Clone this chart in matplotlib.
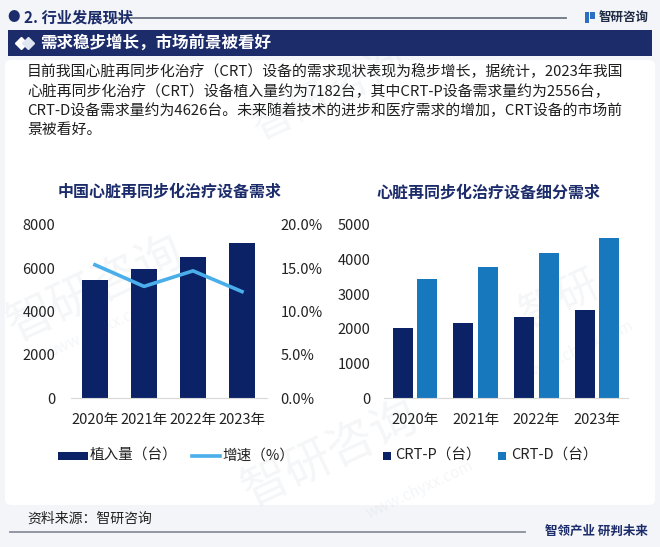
import matplotlib.pyplot as plt
from matplotlib.patches import Rectangle, FancyBboxPatch
from matplotlib.lines import Line2D

plt.rcParams['font.family'] = ['Noto Sans CJK SC', 'DejaVu Sans']

# data
years = ['2020年', '2021年', '2022年', '2023年']
implants = [5450, 5960, 6540, 7182]
growth = [15.4, 12.9, 14.7, 12.3]
crt_p = [2010, 2160, 2340, 2556]
crt_d = [3440, 3800, 4200, 4626]

paragraph = [
    '目前我国心脏再同步化治疗（CRT）设备的需求现状表现为稳步增长，据统计，2023年我国',
    '心脏再同步化治疗（CRT）设备植入量约为7182台，其中CRT-P设备需求量约为2556台，',
    'CRT-D设备需求量约为4626台。未来随着技术的进步和医疗需求的增加，CRT设备的市场前',
    '景被看好。',
]

NAVY = '#0c2266'
BANNER = '#1c2c6b'
LINE_BLUE = '#4aaeea'
MID_BLUE = '#1878bd'

W, H = 660, 547
fig = plt.figure(figsize=(6.6, 5.47), dpi=100)
fig.patch.set_facecolor('#f3f5f8')


def fx(x):
    return x / W


def fy(y):
    return 1 - y / H


# white panel
fig.patches.append(FancyBboxPatch((fx(5), fy(505)), fx(650), 445 / H,
                                  boxstyle='round,pad=0,rounding_size=0.01',
                                  transform=fig.transFigure, facecolor='white',
                                  edgecolor='none', zorder=-3))

# faint watermarks
for (x, y, s, txt) in [(95, 290, 34, '智研咨询'), (330, 455, 34, '智研咨询'),
                       (560, 300, 30, '智研'), (330, 95, 30, '智研咨询'),
                       (100, 330, 11, 'www.chyxx.com'), (420, 490, 11, 'www.chyxx.com'),
                       (580, 350, 11, 'www.chyxx.com')]:
    fig.text(fx(x), fy(y), txt, fontsize=s, color='#a9b6c9', alpha=0.12,
             rotation=25, ha='center', va='center', zorder=-2)

# header row
fig.text(fx(14), fy(17), '●', fontsize=9, color=BANNER, ha='center', va='center')
fig.text(fx(24), fy(17), '2. 行业发展现状', fontsize=11, color=BANNER,
         fontweight='bold', va='center')
fig.add_artist(Line2D([fx(110), fx(566)], [fy(18), fy(18)], color='#6d7583', lw=1.3))
fig.patches.append(Rectangle((fx(585), fy(23)), fx(4), 11 / H, transform=fig.transFigure,
                             facecolor='#2c6fc0', edgecolor='none'))
fig.patches.append(Rectangle((fx(590), fy(19)), fx(5), 7 / H, transform=fig.transFigure,
                             facecolor='#2c6fc0', edgecolor='none'))
fig.text(fx(599), fy(17), '智研咨询', fontsize=9, color='#1f2a44',
         fontweight='bold', va='center')

# banner
fig.patches.append(Rectangle((fx(8), fy(56)), fx(644), 26 / H, transform=fig.transFigure,
                             facecolor=BANNER, edgecolor='none'))
fig.add_artist(Line2D([fx(21)], [fy(43)], marker='D', markersize=6.5, color='white', lw=0))
fig.add_artist(Line2D([fx(28)], [fy(43)], marker='D', markersize=6.5, color='#dfe6f2', lw=0))
fig.text(fx(40), fy(43), '需求稳步增长，市场前景被看好', fontsize=11.9, color='white',
         fontweight='bold', va='center')

# paragraph
for i, line in enumerate(paragraph):
    fig.text(fx(27), fy(72 + i * 19.2), line, fontsize=10.7, color='#1e1e1e', va='center')

# left chart
ax = fig.add_axes([fx(70.5), fy(398), 196 / W, 173 / H])
ax.set_facecolor('none')
x = range(len(years))
ax.bar(x, implants, width=0.55, color=NAVY, zorder=2)
ax.set_ylim(0, 8000)
ax.set_xlim(-0.5, 3.5)
ax.set_yticks([0, 2000, 4000, 6000, 8000])
ax.set_xticks(list(x))
ax.set_xticklabels(years)
ax2 = ax.twinx()
ax2.plot(list(x), growth, color=LINE_BLUE, lw=2.6, zorder=3)
ax2.set_ylim(0, 20)
ax2.set_yticks([0, 5, 10, 15, 20])
ax2.set_yticklabels(['0.0%', '5.0%', '10.0%', '15.0%', '20.0%'])
for a in (ax, ax2):
    for s in a.spines.values():
        s.set_visible(False)
ax.spines['bottom'].set_visible(True)
ax.spines['bottom'].set_color('#d9d9d9')
ax.tick_params(axis='y', length=0, pad=11, labelsize=10.5, labelcolor='#222')
ax.tick_params(axis='x', length=0, pad=11, labelsize=10.5, labelcolor='#222')
ax2.tick_params(axis='y', length=0, pad=10, labelsize=10.5, labelcolor='#222')
fig.text(fx(170), fy(192), '中国心脏再同步化治疗设备需求', fontsize=11.5, color=BANNER,
         fontweight='bold', ha='center', va='center')

# right chart
bx = fig.add_axes([fx(384.5), fy(398), 243 / W, 173 / H])
bx.set_facecolor('none')
xs = range(len(years))
bx.bar([i - 0.2 for i in xs], crt_p, width=0.33, color=NAVY, zorder=2)
bx.bar([i + 0.2 for i in xs], crt_d, width=0.33, color=MID_BLUE, zorder=2)
bx.set_ylim(0, 5000)
bx.set_xlim(-0.5, 3.5)
bx.set_yticks([0, 1000, 2000, 3000, 4000, 5000])
bx.set_xticks(list(xs))
bx.set_xticklabels(years)
for s in bx.spines.values():
    s.set_visible(False)
bx.spines['bottom'].set_visible(True)
bx.spines['bottom'].set_color('#d9d9d9')
bx.tick_params(axis='y', length=0, pad=10, labelsize=10.5, labelcolor='#222')
bx.tick_params(axis='x', length=0, pad=11, labelsize=10.5, labelcolor='#222')
fig.text(fx(488), fy(193), '心脏再同步化治疗设备细分需求', fontsize=11.5, color=BANNER,
         fontweight='bold', ha='center', va='center')

# legends
ly = 456
fig.patches.append(Rectangle((fx(58), fy(ly + 4)), fx(30), 8 / H, transform=fig.transFigure,
                             facecolor=NAVY, edgecolor='none'))
fig.text(fx(90), fy(ly), '植入量（台）', fontsize=10.5, color='#222', va='center')
fig.add_artist(Line2D([fx(192), fx(220)], [fy(ly), fy(ly)], color=LINE_BLUE, lw=2.6))
fig.text(fx(222), fy(ly), '增速（%）', fontsize=10.5, color='#222', va='center')
fig.patches.append(Rectangle((fx(383), fy(ly + 4)), fx(8), 8 / H, transform=fig.transFigure,
                             facecolor=NAVY, edgecolor='none'))
fig.text(fx(395), fy(ly), 'CRT-P（台）', fontsize=10.5, color='#222', va='center')
fig.patches.append(Rectangle((fx(498), fy(ly + 4)), fx(8), 8 / H, transform=fig.transFigure,
                             facecolor=MID_BLUE, edgecolor='none'))
fig.text(fx(511), fy(ly), 'CRT-D（台）', fontsize=10.5, color='#222', va='center')

# footer
fig.text(fx(27), fy(519), '资料来源：智研咨询', fontsize=10, color='#222', va='center')
fig.add_artist(Line2D([fx(10), fx(525)], [fy(532), fy(532)], color='#8a8f99', lw=1.3))
fig.text(fx(545), fy(531), '智领产业 研判未来', fontsize=9, color=BANNER,
         fontweight='bold', va='center')

fig.savefig('out.png', dpi=100, facecolor=fig.get_facecolor())
